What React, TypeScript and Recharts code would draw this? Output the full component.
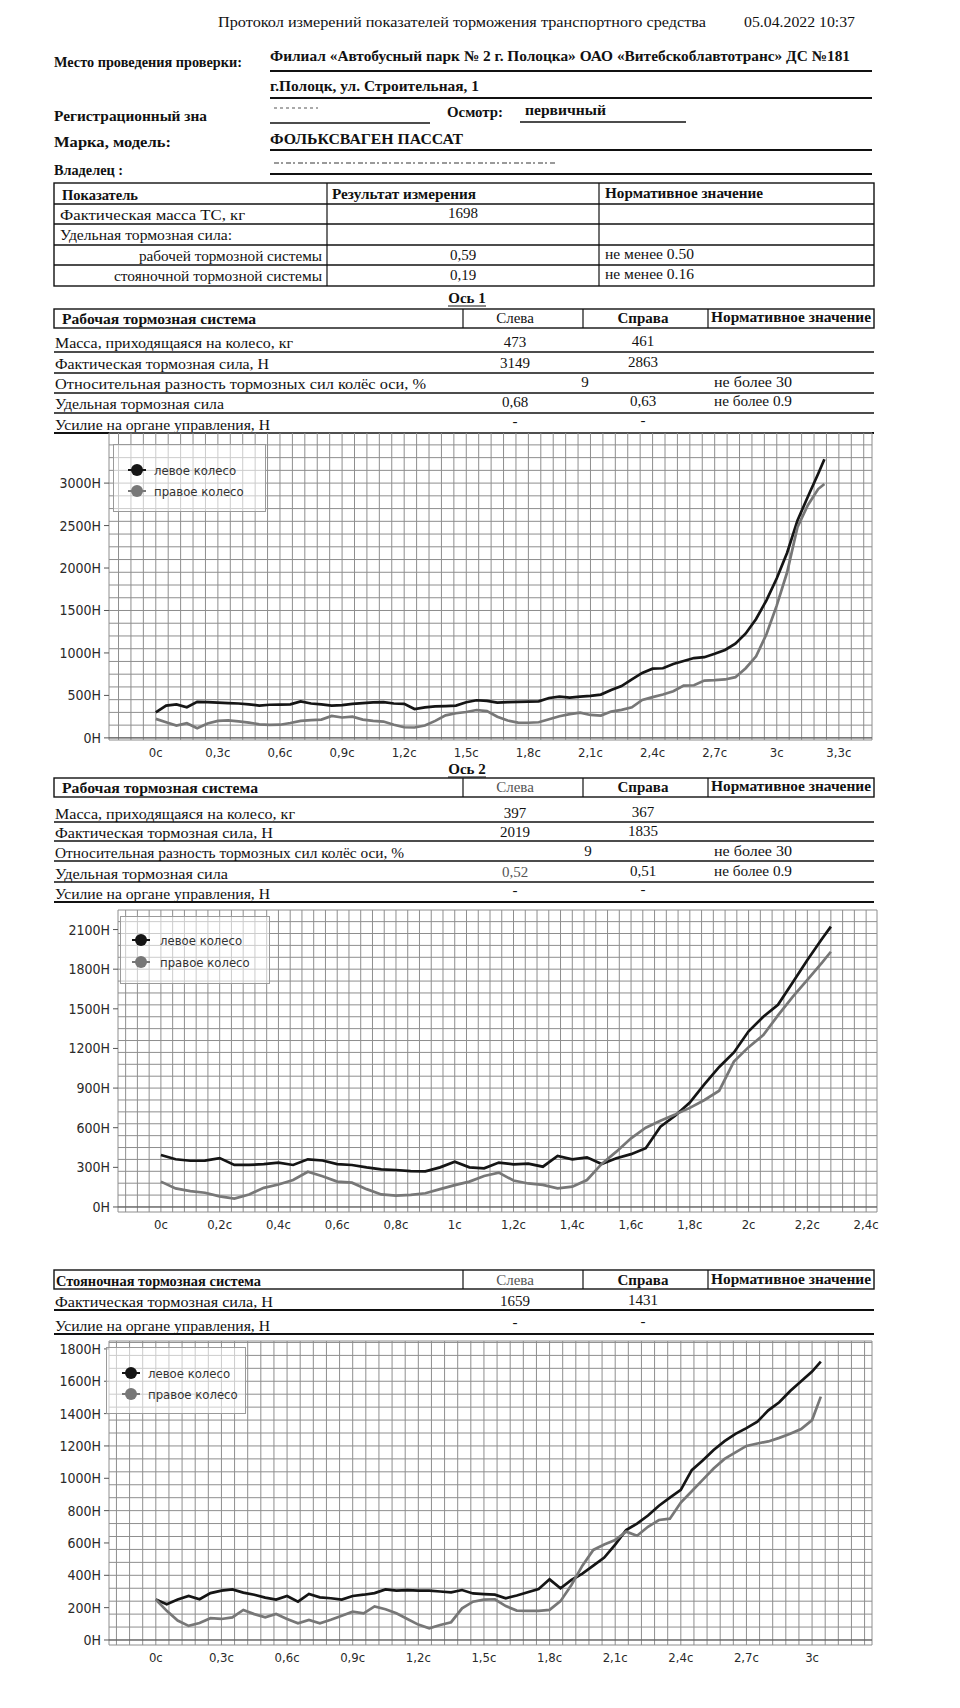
import {
  CartesianGrid,
  Legend,
  Line,
  LineChart,
  ReferenceLine,
  XAxis,
  YAxis,
} from 'recharts';
import type { ReactNode } from 'react';

// Ось 1 — рабочая тормозная система
const axle1Time = [
  0, 0.05, 0.1, 0.15, 0.2, 0.25, 0.3, 0.35, 0.4, 0.45, 0.5, 0.55, 0.6, 0.65, 0.7, 0.75, 0.8, 0.85, 0.9, 0.95,
  1, 1.05, 1.1, 1.15, 1.2, 1.25, 1.3, 1.35, 1.4, 1.45, 1.5, 1.55, 1.6, 1.65, 1.7, 1.75, 1.8, 1.85, 1.9, 1.95,
  2, 2.05, 2.1, 2.15, 2.2, 2.25, 2.3, 2.35, 2.4, 2.45, 2.5, 2.55, 2.6, 2.65, 2.7, 2.75, 2.8, 2.85, 2.9, 2.95,
  3, 3.05, 3.1, 3.15, 3.2, 3.23,
];
const axle1Left = [
  300, 380, 395, 360, 425, 420, 415, 410, 405, 395, 380, 390, 392, 395, 430, 405, 395, 380, 385, 400,
  410, 418, 420, 405, 400, 340, 360, 372, 375, 380, 420, 443, 435, 415, 420, 425, 427, 430, 470, 485,
  475, 485, 495, 510, 565, 610, 690, 765, 815, 820, 870, 905, 940, 950, 990, 1035, 1110, 1230, 1400, 1620,
  1880, 2180, 2560, 2840, 3110, 3280,
];
const axle1Right = [
  224, 185, 145, 173, 114, 170, 200, 205, 195, 180, 160, 152, 155, 175, 200, 208, 215, 258, 240, 250,
  215, 200, 192, 155, 125, 122, 145, 200, 265, 290, 305, 328, 315, 250, 205, 180, 178, 184, 220, 255,
  280, 298, 270, 262, 310, 330, 360, 447, 480, 510, 550, 615, 620, 675, 680, 688, 715, 820, 960, 1220,
  1560, 1950, 2480, 2740, 2930, 2990,
];
const axle1SecTicks = [0, 0.3, 0.6, 0.9, 1.2, 1.5, 1.8, 2.1, 2.4, 2.7, 3, 3.3];
const axle1ForceTicks = [0, 500, 1000, 1500, 2000, 2500, 3000];

// Ось 2 — рабочая тормозная система
const axle2Time = [
  0, 0.05, 0.1, 0.15, 0.2, 0.25, 0.3, 0.35, 0.4, 0.45, 0.5, 0.55, 0.6, 0.65, 0.7, 0.75, 0.8, 0.85, 0.9, 0.95,
  1, 1.05, 1.1, 1.15, 1.2, 1.25, 1.3, 1.35, 1.4, 1.45, 1.5, 1.55, 1.6, 1.65, 1.7, 1.75, 1.8, 1.85, 1.9, 1.95,
  2, 2.05, 2.1, 2.15, 2.2, 2.25, 2.28,
];
const axle2Left = [
  394, 361, 350, 351, 370, 318, 318, 325, 336, 318, 361, 352, 325, 318, 300, 285, 280, 272, 270, 300,
  343, 300, 293, 336, 323, 328, 305, 386, 361, 376, 326, 369, 400, 445, 608, 690, 790, 930, 1060, 1170,
  1330, 1440, 1530, 1700, 1870, 2030, 2122,
];
const axle2Right = [
  192, 141, 120, 108, 80, 63, 95, 145, 170, 204, 267, 232, 192, 184, 135, 95, 86, 92, 104, 135,
  165, 192, 235, 260, 200, 178, 167, 141, 154, 204, 326, 419, 520, 600, 653, 700, 750, 810, 880, 1100,
  1210, 1302, 1450, 1590, 1720, 1850, 1932,
];
const axle2SecTicks = [0, 0.2, 0.4, 0.6, 0.8, 1, 1.2, 1.4, 1.6, 1.8, 2, 2.2, 2.4];
const axle2ForceTicks = [0, 300, 600, 900, 1200, 1500, 1800, 2100];

// стояночная тормозная система
const parkTime = [
  0, 0.05, 0.1, 0.15, 0.2, 0.25, 0.3, 0.35, 0.4, 0.45, 0.5, 0.55, 0.6, 0.65, 0.7, 0.75, 0.8, 0.85, 0.9, 0.95,
  1, 1.05, 1.1, 1.15, 1.2, 1.25, 1.3, 1.35, 1.4, 1.45, 1.5, 1.55, 1.6, 1.65, 1.7, 1.75, 1.8, 1.85, 1.9, 1.95,
  2, 2.05, 2.1, 2.15, 2.2, 2.25, 2.3, 2.35, 2.4, 2.45, 2.5, 2.55, 2.6, 2.65, 2.7, 2.75, 2.8, 2.85, 2.9, 2.95,
  3, 3.04,
];
const parkLeft = [
  250, 221, 250, 272, 252, 290, 305, 313, 293, 280, 262, 250, 272, 237, 285, 264, 258, 250, 272, 280,
  290, 313, 305, 308, 305, 305, 300, 295, 309, 288, 284, 280, 258, 275, 295, 315, 375, 320, 371, 410,
  460, 510, 590, 680, 720, 770, 830, 880, 928, 1050, 1110, 1175, 1230, 1275, 1310, 1350, 1420, 1470, 1540, 1600,
  1660, 1721,
];
const parkRight = [
  250, 180, 120, 87, 105, 135, 130, 140, 186, 160, 140, 161, 130, 103, 124, 103, 125, 150, 175, 165,
  208, 190, 165, 130, 95, 72, 93, 110, 196, 237, 250, 252, 210, 182, 180, 180, 186, 240, 340, 460,
  557, 590, 618, 670, 645, 700, 742, 750, 850, 920, 990, 1060, 1120, 1160, 1200, 1215, 1228, 1250, 1275, 1305,
  1360, 1505,
];
const parkSecTicks = [0, 0.3, 0.6, 0.9, 1.2, 1.5, 1.8, 2.1, 2.4, 2.7, 3];
const parkForceTicks = [0, 200, 400, 600, 800, 1000, 1200, 1400, 1600, 1800];

const SANS = "'DejaVu Sans Condensed', 'DejaVu Sans', sans-serif";
const SERIF = "'Liberation Serif', 'Times New Roman', serif";
const LEFT_COLOR = '#151515';
const RIGHT_COLOR = '#777777';
const GRID = '#8e8e8e';

// grid lines every `step`, plus the two domain edges (gives the plot frame)
function gridLines(min: number, max: number, step: number) {
  const out = [min];
  for (let v = Math.ceil(min / step) * step; v < max - 1e-6; v += step) {
    if (v > min + 1e-6) out.push(Math.round(v * 1000) / 1000);
  }
  out.push(max);
  return out;
}

const secLabel = (v: number) =>
  Number.isInteger(v) ? `${v}с` : `${v.toFixed(1).replace('.', ',')}с`;
const newtonLabel = (v: number) => `${v}Н`;

interface LegendBox {
  left: number;
  top: number;
  width: number;
  height: number;
  markX: number;
  textX: number;
  firstY: number;
  gapY: number;
}

function WheelLegend({ payload, box }: { payload?: any[]; box: LegendBox }) {
  return (
    <svg width={box.width} height={box.height} style={{ display: 'block' }}>
      <rect
        x={0.5}
        y={0.5}
        width={box.width - 1}
        height={box.height - 1}
        fill="rgba(255,255,255,0.55)"
        stroke="#9a9a9a"
      />
      {(payload ?? []).map((entry, i) => {
        const y = box.firstY + i * box.gapY;
        return (
          <g key={entry.value}>
            <line x1={box.markX - 9} x2={box.markX + 9} y1={y} y2={y} stroke={entry.color} strokeWidth={2} />
            <circle cx={box.markX} cy={y} r={6} fill={entry.color} />
            <text x={box.textX} y={y} dy="0.35em" fontSize={13} fontFamily={SANS} fill="#333">
              {entry.value}
            </text>
          </g>
        );
      })}
    </svg>
  );
}

function BrakeChart({
  top,
  height,
  margin,
  yWidth,
  xHeight,
  time,
  left,
  right,
  xDomain,
  yDomain,
  xTicks,
  yTicks,
  xStep,
  yStep,
  legend,
}: {
  top: number;
  height: number;
  margin: { top: number; right: number; bottom: number; left: number };
  yWidth: number;
  xHeight: number;
  time: number[];
  left: number[];
  right: number[];
  xDomain: [number, number];
  yDomain: [number, number];
  xTicks: number[];
  yTicks: number[];
  xStep: number;
  yStep: number;
  legend: LegendBox;
}) {
  const rows = time.map((t, i) => ({ t, left: left[i], right: right[i] }));
  return (
    <div style={{ position: 'absolute', left: 0, top }}>
      <LineChart width={960} height={height} data={rows} margin={margin}>
        <CartesianGrid
          stroke={GRID}
          strokeWidth={1}
          verticalValues={gridLines(xDomain[0], xDomain[1], xStep)}
          horizontalValues={gridLines(yDomain[0], yDomain[1], yStep)}
        />
        <XAxis
          dataKey="t"
          type="number"
          domain={xDomain}
          ticks={xTicks}
          allowDataOverflow
          interval={0}
          tickFormatter={secLabel}
          tickLine={false}
          axisLine={false}
          height={xHeight}
          tickSize={5}
          tickMargin={3}
          tick={{ fontSize: 13, fontFamily: SANS, fill: '#2a2a2a' }}
        />
        <YAxis
          type="number"
          domain={yDomain}
          ticks={yTicks}
          allowDataOverflow
          interval={0}
          tickFormatter={newtonLabel}
          width={yWidth}
          tickLine={{ stroke: '#555' }}
          axisLine={false}
          tickSize={5}
          tickMargin={3}
          tick={{ fontSize: 14, fontFamily: SANS, fill: '#2a2a2a' }}
        />
        <ReferenceLine y={0} stroke="#555" />
        <Legend
          layout="vertical"
          align="center"
          verticalAlign="middle"
          wrapperStyle={{ left: legend.left, top: legend.top, width: legend.width, height: legend.height }}
          content={(p: any) => <WheelLegend payload={p.payload} box={legend} />}
        />
        <Line
          dataKey="left"
          name="левое колесо"
          stroke={LEFT_COLOR}
          strokeWidth={2.7}
          dot={false}
          activeDot={false}
          isAnimationActive={false}
        />
        <Line
          dataKey="right"
          name="правое колесо"
          stroke={RIGHT_COLOR}
          strokeWidth={2.7}
          dot={false}
          activeDot={false}
          isAnimationActive={false}
        />
      </LineChart>
    </div>
  );
}

function T({
  x,
  y,
  w,
  size = 15,
  bold = false,
  anchor = 'start',
  fill = '#111',
  children,
}: {
  x: number;
  y: number;
  w?: number;
  size?: number;
  bold?: boolean;
  anchor?: 'start' | 'middle' | 'end';
  fill?: string;
  children: ReactNode;
}) {
  const fit = w ? { textLength: w, lengthAdjust: 'spacingAndGlyphs' as const } : {};
  return (
    <text x={x} y={y} fontSize={size} fontWeight={bold ? 700 : 400} textAnchor={anchor} fill={fill} {...fit}>
      {children}
    </text>
  );
}

function HL({ x1 = 54, x2 = 874, y, w = 1.3 }: { x1?: number; x2?: number; y: number; w?: number }) {
  return <line x1={x1} x2={x2} y1={y} y2={y} stroke="#111" strokeWidth={w} />;
}

function VL({ x, y1, y2 }: { x: number; y1: number; y2: number }) {
  return <line x1={x} x2={x} y1={y1} y2={y2} stroke="#111" strokeWidth={1.2} />;
}

function Document() {
  return (
    <svg width={960} height={1708} style={{ position: 'absolute', left: 0, top: 0 }} fontFamily={SERIF}>
      <T x={218} y={27} w={488}>Протокол измерений показателей торможения транспортного средства</T>
      <T x={744} y={27} w={111}>05.04.2022 10:37</T>

      <T x={54} y={67} w={188} bold>Место проведения проверки:</T>
      <T x={270} y={61} w={580} bold>
        Филиал «Автобусный парк № 2 г. Полоцка» ОАО «Витебскоблавтотранс» ДС №181
      </T>
      <HL x1={270} x2={872} y={71} w={1.8} />
      <T x={270} y={91} w={209} bold>г.Полоцк, ул. Строительная, 1</T>
      <HL x1={270} x2={872} y={98} w={1.8} />

      <T x={54} y={121} w={153} bold>Регистрационный зна</T>
      <line x1={274} x2={318} y1={108} y2={108} stroke="#aaa" strokeWidth={2} strokeDasharray="3 3" />
      <T x={447} y={117} w={56} bold>Осмотр:</T>
      <T x={525} y={115} w={81} bold>первичный</T>
      <HL x1={270} x2={430} y={123} w={1.5} />
      <HL x1={520} x2={686} y={122} w={1.5} />

      <T x={54} y={147} w={117} bold>Марка, модель:</T>
      <T x={270} y={144} w={193} bold>ФОЛЬКСВАГЕН ПАССАТ</T>
      <HL x1={270} x2={872} y={150} w={1.8} />
      <T x={54} y={175} w={69} bold>Владелец :</T>
      <line x1={274} x2={556} y1={163} y2={163} stroke="#9a9a9a" strokeWidth={2} strokeDasharray="5 2 2 3" />
      <HL x1={270} x2={872} y={174} w={1.8} />

      {/* общие показатели */}
      <rect x={54} y={183} width={820} height={103} fill="none" stroke="#111" strokeWidth={1.4} />
      <HL y={204} />
      <HL y={224} />
      <HL y={245} />
      <HL y={265} />
      <VL x={327} y1={183} y2={286} />
      <VL x={599} y1={183} y2={286} />
      <T x={62} y={200} w={76} bold>Показатель</T>
      <T x={332} y={199} w={144} bold>Результат измерения</T>
      <T x={605} y={198} w={158} bold>Нормативное значение</T>
      <T x={60} y={220} w={185}>Фактическая масса ТС, кг</T>
      <T x={463} y={218} anchor="middle">1698</T>
      <T x={60} y={240} w={172}>Удельная тормозная сила:</T>
      <T x={322} y={261} w={183} anchor="end">рабочей тормозной системы</T>
      <T x={463} y={260} anchor="middle">0,59</T>
      <T x={605} y={259} w={89}>не менее 0.50</T>
      <T x={322} y={281} w={208} anchor="end">стояночной тормозной системы</T>
      <T x={463} y={280} anchor="middle">0,19</T>
      <T x={605} y={279} w={89}>не менее 0.16</T>

      {/* Ось 1 */}
      <T x={467} y={303} anchor="middle" bold>Ось 1</T>
      <HL x1={448} x2={486} y={306} w={1} />
      <rect x={54} y={309} width={820} height={19} fill="none" stroke="#111" strokeWidth={1.4} />
      <VL x={463} y1={309} y2={328} />
      <VL x={583} y1={309} y2={328} />
      <VL x={708} y1={309} y2={328} />
      <T x={62} y={324} w={194} bold>Рабочая тормозная система</T>
      <T x={515} y={323} anchor="middle">Слева</T>
      <T x={643} y={323} anchor="middle" bold>Справа</T>
      <T x={711} y={322} w={160} bold>Нормативное значение</T>
      <T x={55} y={348} w={238}>Масса, приходящаяся на колесо, кг</T>
      <T x={515} y={347} anchor="middle">473</T>
      <T x={643} y={346} anchor="middle">461</T>
      <HL y={352} />
      <T x={55} y={369} w={214}>Фактическая тормозная сила, Н</T>
      <T x={515} y={368} anchor="middle">3149</T>
      <T x={643} y={367} anchor="middle">2863</T>
      <HL y={373} />
      <T x={55} y={389} w={371}>Относительная разность тормозных сил колёс оси, %</T>
      <T x={585} y={387} anchor="middle">9</T>
      <T x={714} y={387} w={78}>не более 30</T>
      <HL y={393} />
      <T x={55} y={409} w={169}>Удельная тормозная сила</T>
      <T x={515} y={407} anchor="middle">0,68</T>
      <T x={643} y={406} anchor="middle">0,63</T>
      <T x={714} y={406} w={78}>не более 0.9</T>
      <HL y={413} />
      <T x={55} y={430} w={215}>Усилие на органе управления, Н</T>
      <T x={515} y={426} anchor="middle">-</T>
      <T x={643} y={425} anchor="middle">-</T>
      <HL y={433} w={1.8} />

      {/* Ось 2 */}
      <T x={467} y={774} anchor="middle" bold>Ось 2</T>
      <HL x1={448} x2={486} y={777} w={1} />
      <rect x={54} y={778} width={820} height={19} fill="none" stroke="#111" strokeWidth={1.4} />
      <VL x={463} y1={778} y2={797} />
      <VL x={583} y1={778} y2={797} />
      <VL x={708} y1={778} y2={797} />
      <T x={62} y={793} w={196} bold>Рабочая тормозная система</T>
      <T x={515} y={792} anchor="middle" fill="#555">Слева</T>
      <T x={643} y={792} anchor="middle" bold>Справа</T>
      <T x={711} y={791} w={160} bold>Нормативное значение</T>
      <T x={55} y={819} w={240}>Масса, приходящаяся на колесо, кг</T>
      <T x={515} y={818} anchor="middle">397</T>
      <T x={643} y={817} anchor="middle">367</T>
      <HL y={822} />
      <T x={55} y={838} w={218}>Фактическая тормозная сила, Н</T>
      <T x={515} y={837} anchor="middle">2019</T>
      <T x={643} y={836} anchor="middle">1835</T>
      <HL y={841} />
      <T x={55} y={858} w={349}>Относительная разность тормозных сил колёс оси, %</T>
      <T x={588} y={856} anchor="middle">9</T>
      <T x={714} y={856} w={78}>не более 30</T>
      <HL y={861} />
      <T x={55} y={879} w={173}>Удельная тормозная сила</T>
      <T x={515} y={877} anchor="middle" fill="#555">0,52</T>
      <T x={643} y={876} anchor="middle">0,51</T>
      <T x={714} y={876} w={78}>не более 0.9</T>
      <HL y={882} />
      <T x={55} y={899} w={215}>Усилие на органе управления, Н</T>
      <T x={515} y={895} anchor="middle">-</T>
      <T x={643} y={894} anchor="middle">-</T>
      <HL y={902} w={1.8} />

      {/* стояночная */}
      <rect x={54} y={1270} width={820} height={19} fill="none" stroke="#111" strokeWidth={1.4} />
      <VL x={463} y1={1270} y2={1289} />
      <VL x={583} y1={1270} y2={1289} />
      <VL x={708} y1={1270} y2={1289} />
      <T x={56} y={1286} w={205} bold>Стояночная тормозная система</T>
      <T x={515} y={1285} anchor="middle" fill="#555">Слева</T>
      <T x={643} y={1285} anchor="middle" bold>Справа</T>
      <T x={711} y={1284} w={160} bold>Нормативное значение</T>
      <T x={55} y={1307} w={218}>Фактическая тормозная сила, Н</T>
      <T x={515} y={1306} anchor="middle">1659</T>
      <T x={643} y={1305} anchor="middle">1431</T>
      <HL y={1310} w={1.8} />
      <T x={55} y={1331} w={215}>Усилие на органе управления, Н</T>
      <T x={515} y={1327} anchor="middle">-</T>
      <T x={643} y={1326} anchor="middle">-</T>
      <HL y={1334} w={1.8} />
    </svg>
  );
}

export default function App() {
  return (
    <div
      style={{
        position: 'absolute',
        left: 0,
        top: 0,
        width: 960,
        height: 1708,
        background: '#fff',
        overflow: 'hidden',
      }}
    >
      <Document />
      <BrakeChart
        top={420}
        height={350}
        margin={{ top: 13, right: 88, bottom: 0, left: 0 }}
        yWidth={109}
        xHeight={30}
        time={axle1Time}
        left={axle1Left}
        right={axle1Right}
        xDomain={[-0.226, 3.46]}
        yDomain={[-25, 3590]}
        xTicks={axle1SecTicks}
        yTicks={axle1ForceTicks}
        xStep={0.06}
        yStep={150}
        legend={{ left: 113, top: 24, width: 153, height: 68, markX: 24, textX: 41, firstY: 26, gapY: 21 }}
      />
      <BrakeChart
        top={900}
        height={340}
        margin={{ top: 10, right: 83, bottom: 0, left: 0 }}
        yWidth={118}
        xHeight={28}
        time={axle2Time}
        left={axle2Left}
        right={axle2Right}
        xDomain={[-0.146, 2.437]}
        yDomain={[-38, 2248]}
        xTicks={axle2SecTicks}
        yTicks={axle2ForceTicks}
        xStep={0.04}
        yStep={90}
        legend={{ left: 120, top: 16, width: 150, height: 68, markX: 21, textX: 40, firstY: 24, gapY: 22 }}
      />
      <BrakeChart
        top={1330}
        height={345}
        margin={{ top: 11, right: 88, bottom: 0, left: 0 }}
        yWidth={109}
        xHeight={30}
        time={parkTime}
        left={parkLeft}
        right={parkRight}
        xDomain={[-0.214, 3.274]}
        yDomain={[-31, 1849]}
        xTicks={parkSecTicks}
        yTicks={parkForceTicks}
        xStep={0.06}
        yStep={80}
        legend={{ left: 106, top: 17, width: 140, height: 67, markX: 25, textX: 42, firstY: 26, gapY: 21 }}
      />
    </div>
  );
}
